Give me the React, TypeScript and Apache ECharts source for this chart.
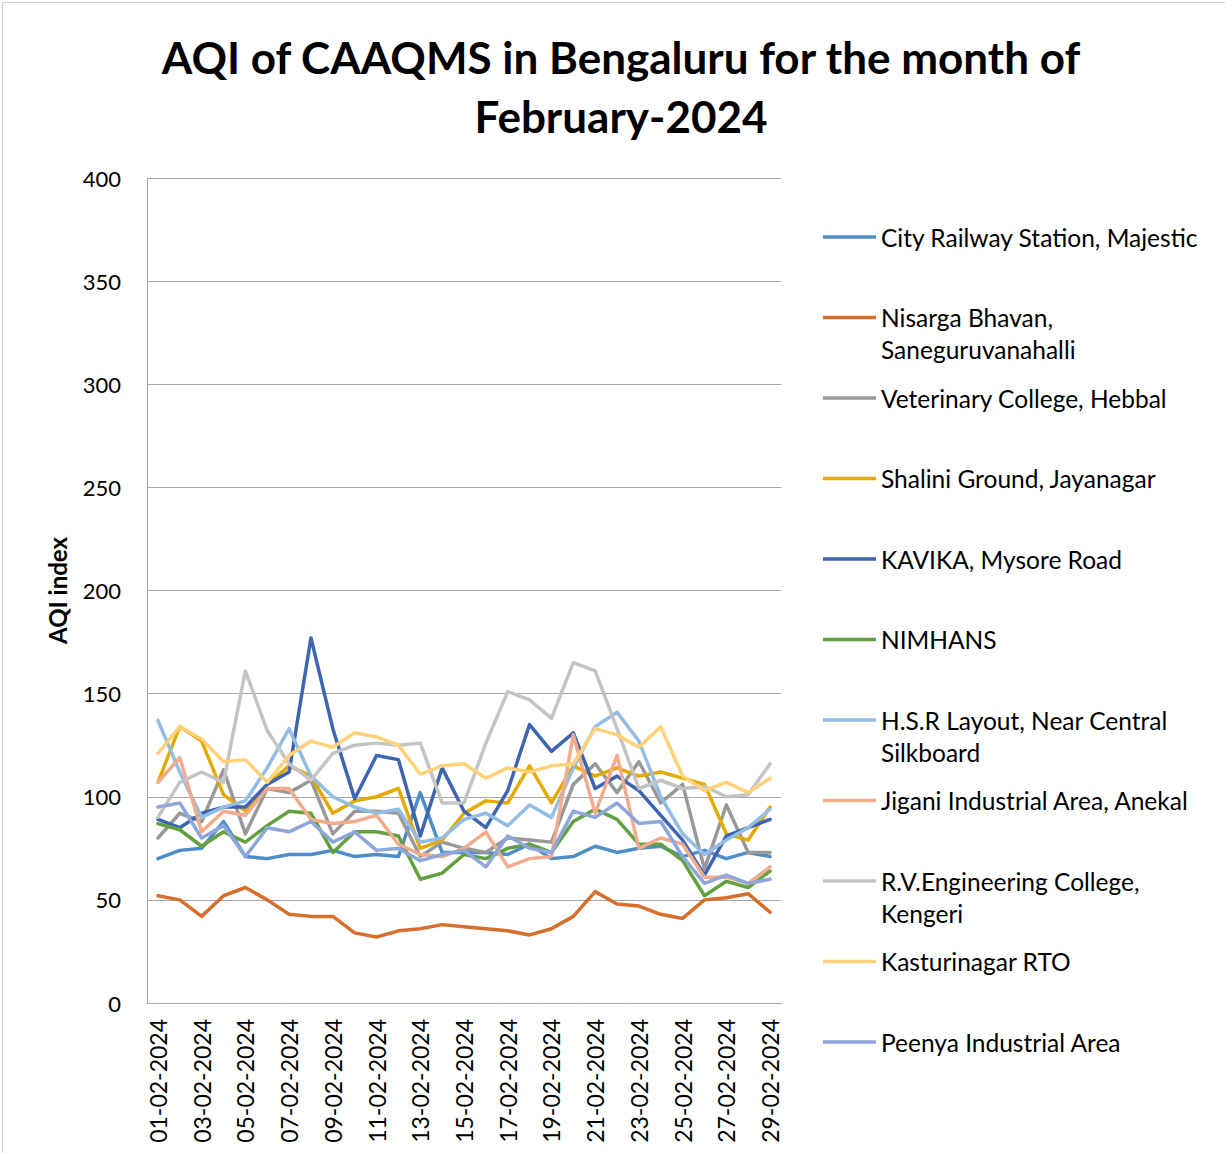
import React, { useEffect, useRef } from "react";
import * as echarts from "echarts";

const dates: string[] = [
  "01-02-2024", "02-02-2024", "03-02-2024", "04-02-2024", "05-02-2024", "06-02-2024", "07-02-2024",
  "08-02-2024", "09-02-2024", "10-02-2024", "11-02-2024", "12-02-2024", "13-02-2024", "14-02-2024",
  "15-02-2024", "16-02-2024", "17-02-2024", "18-02-2024", "19-02-2024", "20-02-2024", "21-02-2024",
  "22-02-2024", "23-02-2024", "24-02-2024", "25-02-2024", "26-02-2024", "27-02-2024", "28-02-2024",
  "29-02-2024",
];

const cityRailway = [70, 74, 75, 88, 71, 70, 72, 72, 74, 71, 72, 71, 102, 73, 73, 73, 72, 77, 70, 71, 76, 73, 75, 76, 71, 74, 70, 73, 71];
const nisarga = [52, 50, 42, 52, 56, 50, 43, 42, 42, 34, 32, 35, 36, 38, 37, 36, 35, 33, 36, 42, 54, 48, 47, 43, 41, 50, 51, 53, 44];
const veterinary = [80, 92, 88, 113, 82, 104, 102, 108, 82, 93, 93, 92, 71, 78, 75, 73, 80, 79, 78, 106, 116, 102, 117, 97, 106, 65, 96, 73, 73];
const shalini = [107, 134, 127, 101, 93, 106, 115, 110, 92, 98, 100, 104, 75, 79, 92, 98, 97, 115, 97, 115, 110, 114, 110, 112, 109, 106, 82, 79, 95];
const kavika = [89, 85, 92, 95, 95, 106, 112, 177, 133, 99, 120, 118, 81, 114, 93, 85, 103, 135, 122, 131, 104, 110, 103, 91, 79, 62, 81, 85, 89];
const nimhans = [87, 84, 76, 83, 78, 86, 93, 92, 73, 83, 83, 81, 60, 63, 72, 70, 75, 77, 73, 88, 94, 89, 77, 77, 69, 52, 59, 56, 64];
const hsr = [137, 112, 90, 95, 98, 114, 133, 110, 100, 95, 92, 94, 78, 80, 89, 92, 86, 96, 90, 114, 134, 141, 127, 100, 82, 72, 79, 85, 94];
const jigani = [107, 119, 83, 93, 91, 104, 104, 89, 87, 88, 91, 77, 72, 71, 75, 83, 66, 70, 71, 130, 92, 120, 75, 80, 77, 61, 61, 58, 66];
const rvCollege = [90, 107, 112, 107, 161, 132, 116, 108, 121, 125, 126, 125, 126, 97, 97, 126, 151, 147, 138, 165, 161, 133, 104, 108, 104, 105, 100, 101, 116];
const kasturinagar = [121, 134, 128, 117, 118, 107, 120, 127, 124, 131, 129, 125, 111, 115, 116, 109, 114, 112, 115, 116, 133, 130, 124, 134, 110, 103, 107, 102, 109];
const peenya = [95, 97, 80, 86, 71, 85, 83, 88, 78, 83, 74, 75, 69, 72, 74, 66, 81, 75, 73, 93, 90, 97, 87, 88, 71, 58, 62, 58, 60];

const seriesNames: string[] = [
  "City Railway Station, Majestic",
  "Nisarga Bhavan, Saneguruvanahalli",
  "Veterinary College, Hebbal",
  "Shalini Ground, Jayanagar",
  "KAVIKA, Mysore Road",
  "NIMHANS",
  "H.S.R Layout, Near Central Silkboard",
  "Jigani Industrial Area, Anekal",
  "R.V.Engineering College, Kengeri",
  "Kasturinagar RTO",
  "Peenya Industrial Area",
];

const legendLabels: string[] = [
  "City Railway Station, Majestic",
  "Nisarga Bhavan,\nSaneguruvanahalli",
  "Veterinary College, Hebbal",
  "Shalini Ground, Jayanagar",
  "KAVIKA, Mysore Road",
  "NIMHANS",
  "H.S.R Layout, Near Central\nSilkboard",
  "Jigani Industrial Area, Anekal",
  "R.V.Engineering College,\nKengeri",
  "Kasturinagar RTO",
  "Peenya Industrial Area",
];

const seriesValues: number[][] = [
  cityRailway, nisarga, veterinary, shalini, kavika, nimhans, hsr, jigani, rvCollege, kasturinagar, peenya,
];

const colors: string[] = [
  "#4e8dc8", "#d66e2c", "#999999", "#e5aa00", "#3e66b0", "#62a040",
  "#93bde4", "#f2ab8c", "#c4c4c4", "#ffd27a", "#8ea6da",
];

const FONT = "Lato, 'Open Sans', sans-serif";

export default function App() {
  const ref = useRef<HTMLDivElement>(null);

  useEffect(() => {
    document.body.style.margin = "0";
    if (!ref.current) return;
    const chart = echarts.init(ref.current, undefined, { renderer: "svg" });

    const legendGraphics: any[] = [];
    seriesNames.forEach((_, i) => {
      const y = 237 + i * 80.5;
      legendGraphics.push({
        type: "line",
        shape: { x1: 823, y1: y, x2: 876, y2: y },
        style: { stroke: colors[i], lineWidth: 3.5 },
        silent: true,
      });
      legendGraphics.push({
        type: "text",
        x: 881,
        y: y - 16,
        style: {
          text: legendLabels[i],
          fill: "#000000",
          fontSize: 24.5,
          fontFamily: FONT,
          lineHeight: 32,
          textAlign: "left",
          verticalAlign: "top",
        },
        silent: true,
      });
    });

    chart.setOption({
      animation: false,
      color: colors,
      textStyle: { fontFamily: FONT },
      title: {
        text: "AQI of CAAQMS in Bengaluru for the month of\nFebruary-2024",
        left: 616,
        textAlign: "center",
        top: 22,
        textStyle: {
          fontFamily: FONT,
          fontSize: 44,
          fontWeight: "bold",
          color: "#000000",
          lineHeight: 59,
        },
      },
      grid: { left: 147, top: 178, width: 634, height: 825, containLabel: false },
      xAxis: {
        type: "category",
        data: dates,
        boundaryGap: true,
        axisLine: { show: true, lineStyle: { color: "#a6a6a6", width: 1 } },
        axisTick: { show: false },
        axisLabel: {
          interval: 1,
          rotate: 90,
          fontSize: 23,
          color: "#000000",
          fontFamily: FONT,
          margin: 16,
        },
        splitLine: { show: false },
      },
      yAxis: {
        type: "value",
        min: 0,
        max: 400,
        interval: 50,
        name: "AQI index",
        nameLocation: "middle",
        nameGap: 78,
        nameTextStyle: { fontSize: 24, fontWeight: "bold", color: "#000000", fontFamily: FONT },
        axisLine: { show: true, lineStyle: { color: "#a6a6a6", width: 1 } },
        axisTick: { show: false },
        axisLabel: { fontSize: 22, color: "#000000", margin: 26, fontFamily: FONT },
        splitLine: { show: true, lineStyle: { color: "#a6a6a6", width: 1 } },
      },
      series: seriesNames.map((name, i) => ({
        name,
        type: "line",
        data: seriesValues[i],
        showSymbol: false,
        symbol: "none",
        lineStyle: { width: 3.5, color: colors[i], cap: "round", join: "round" },
        itemStyle: { color: colors[i] },
      })),
      graphic: [
        {
          type: "rect",
          shape: { x: 2.5, y: 2.5, width: 1400, height: 1400 },
          style: { fill: "none", stroke: "#d0d0d0", lineWidth: 1 },
          silent: true,
          z: -10,
        },
        ...legendGraphics,
      ],
    });

    return () => {
      chart.dispose();
    };
  }, []);

  return <div ref={ref} style={{ width: 1225, height: 1153 }} />;
}
